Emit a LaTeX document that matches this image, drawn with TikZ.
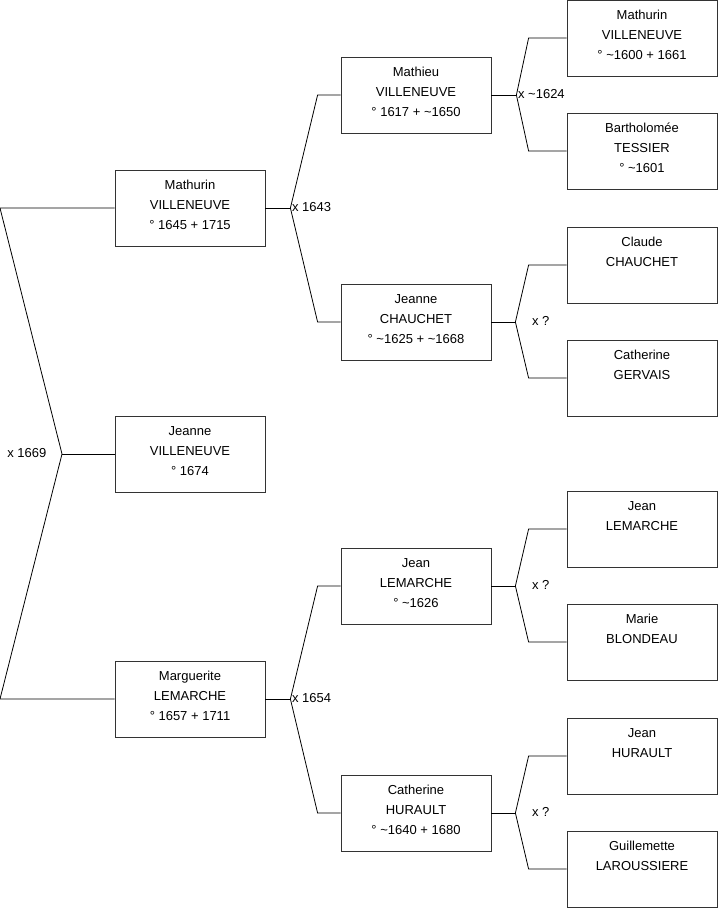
\documentclass[tikz,border=0pt]{standalone}
\usepackage{fontspec}
\setmainfont{Liberation Sans}
\usetikzlibrary{positioning}

\tikzset{
  person/.style={draw=black!80, line width=0.8pt, minimum width=150pt, minimum height=76pt,
    inner sep=0pt, align=center, font=\fontsize{13}{20}\selectfont},
  union/.style={font=\fontsize{13}{16}\selectfont, inner sep=1.5pt},
  link/.style={line width=0.8pt}
}

\begin{document}
\begin{tikzpicture}[x=1pt, y=-1pt]
\useasboundingbox (0,0) rectangle (719,908);
% individus, numerotes en sosa
\foreach \n/\x/\y/\prenom/\nom/\dates in {
    1/190/454/Jeanne/VILLENEUVE/{° 1674},
    2/190/208/Mathurin/VILLENEUVE/{° 1645 + 1715},
    3/190/699/Marguerite/LEMARCHE/{° 1657 + 1711},
    4/416/95/Mathieu/VILLENEUVE/{° 1617 + \textasciitilde1650},
    5/416/322/Jeanne/CHAUCHET/{° \textasciitilde1625 + \textasciitilde1668},
    6/416/586/Jean/LEMARCHE/{° \textasciitilde1626},
    7/416/813/Catherine/HURAULT/{° \textasciitilde1640 + 1680},
    8/642/38/Mathurin/VILLENEUVE/{° \textasciitilde1600 + 1661},
    9/642/151/Bartholomée/TESSIER/{° \textasciitilde1601},
    10/642/265/Claude/CHAUCHET/{},
    11/642/378/Catherine/GERVAIS/{},
    12/642/529/Jean/LEMARCHE/{},
    13/642/642/Marie/BLONDEAU/{},
    14/642/756/Jean/HURAULT/{},
    15/642/869/Guillemette/LAROUSSIERE/{}
} {
    \node[person] (s\n) at (\x,\y) {\prenom\\\nom\\\strut\dates};
}
% racine : union des parents de Jeanne
\coordinate (u1) at (62,454);
\coordinate (p2) at (0,208);
\coordinate (p3) at (0,699);
\draw[link] (s1.west) -- (u1);
\draw[link] (u1) -- (p2) -- (s2.west);
\draw[link] (u1) -- (p3) -- (s3.west);
\node[union, anchor=east] (m1) at ([xshift=-14pt, yshift=1pt]u1) {x 1669};
% unions des ascendants
\foreach \c/\f/\m/\a/\b/\dx/\lab in {
    2/4/5/25/23/0/x 1643,
    3/6/7/25/23/0/x 1654,
    4/8/9/25/38/0/{x \textasciitilde1624},
    5/10/11/24/38/15/x ?,
    6/12/13/24/38/15/x ?,
    7/14/15/24/38/15/x ?
} {
    \coordinate (u\c) at ([xshift=\a pt]s\c.east);
    \coordinate (p\f) at ([xshift=-\b pt]s\f.west);
    \coordinate (p\m) at ([xshift=-\b pt]s\m.west);
    \draw[link] (s\c.east) -- (u\c);
    \draw[link] (u\c) -- (p\f) -- (s\f.west);
    \draw[link] (u\c) -- (p\m) -- (s\m.west);
    \node[union, anchor=west] (m\c) at ([xshift=\dx pt, yshift=1pt]u\c) {\lab};
}
\end{tikzpicture}
\end{document}
